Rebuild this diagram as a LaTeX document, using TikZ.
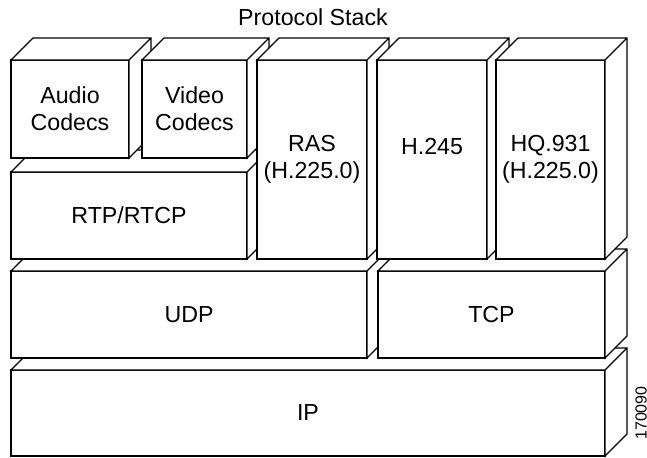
\documentclass[tikz,border=0pt]{standalone}
\usepackage{fontspec}
\setmainfont{Liberation Sans}
\usepackage{tikz}

\begin{document}
\begin{tikzpicture}[x=0.5pt, y=-0.5pt, line width=0.6pt,
  layer/.style={draw, fill=white, outer sep=0pt, inner sep=0pt, align=center,
    font=\fontsize{11.6}{13.5}\selectfont}]

% Page frame
\useasboundingbox (0,0) rectangle (647,457);

% Title
\node [font=\fontsize{11.6}{13.5}\selectfont] (title) at (313,17) {Protocol Stack};

% Layers: name / left / top / right / bottom / text (drawn from the bottom up)
\foreach \n/\a/\b/\c/\d/\t in {
    ip/11/370/605/456/IP,
    udp/11/271/367/358/UDP,
    tcp/378/271/605/358/TCP,
    rtp/11/172/247/259/RTP\slash RTCP,
    audio/11/60/129/158/{Audio\\Codecs},
    video/142/60/247/158/{Video\\Codecs},
    ras/257/60/367/259/{RAS\\(H.225.0)},
    hdoublefive/377/60/487/259/{H.245\\\mbox{}},
    hq/496/60/605/259/{HQ.931\\(H.225.0)}}
{
  \node [layer, minimum width=\c*0.5pt-\a*0.5pt, minimum height=\d*0.5pt-\b*0.5pt]
    (\n) at ({(\a+\c)/2},{(\b+\d)/2}) {\t};
  % top and right faces
  \filldraw [fill=white] (\n.north west) -- ++(22,-22)
    -- ([shift={(22,-22)}]\n.north east) -- ([shift={(22,-22)}]\n.south east)
    -- (\n.south east) -- (\n.north east) -- cycle
    (\n.north east) -- ++(22,-22);
}

% Figure number
\node [rotate=90, font=\fontsize{8}{9}\selectfont] (fignum) at (641,413) {170090};

\end{tikzpicture}
\end{document}
